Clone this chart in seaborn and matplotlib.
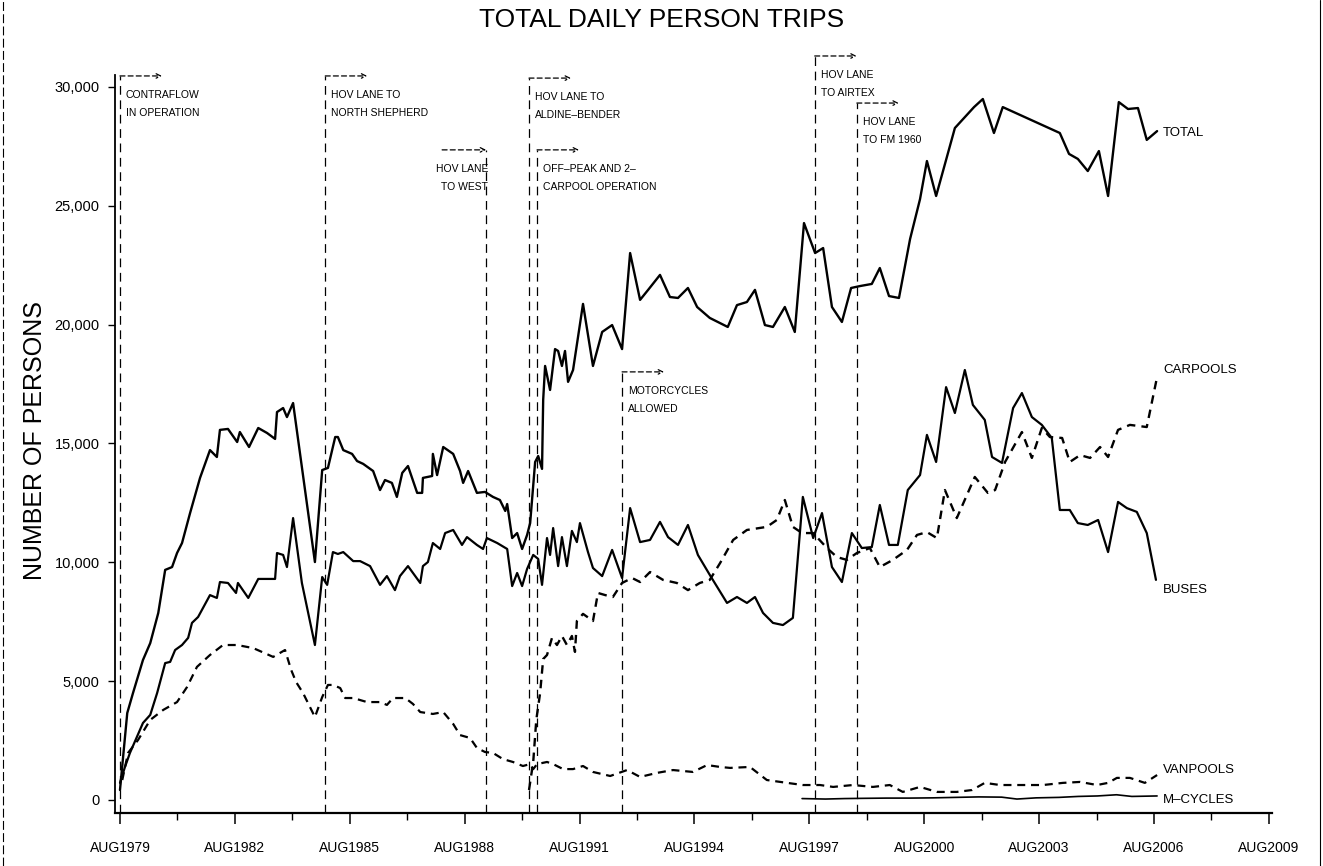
import pandas as pd
import seaborn as sns
import matplotlib.pyplot as plt
from matplotlib.lines import Line2D

# time axis is in decimal years (AUG = .58), values are daily person trips
total_year = [1979.58, 1979.77, 1979.92, 1980.18, 1980.37, 1980.58, 1980.76, 1980.94, 1981.07, 1981.20,
              1981.41, 1981.67, 1981.93, 1982.11, 1982.19, 1982.40, 1982.64, 1982.71, 1982.95, 1983.19,
              1983.42, 1983.63, 1983.68, 1983.84, 1983.94, 1984.10, 1984.67, 1984.86, 1985.01, 1985.20,
              1985.27, 1985.41, 1985.64, 1985.77, 1985.93, 1986.19, 1986.37, 1986.50, 1986.68, 1986.81,
              1986.95, 1987.10, 1987.34, 1987.47, 1987.49, 1987.73, 1987.75, 1987.86, 1988.02, 1988.28,
              1988.46, 1988.54, 1988.67, 1988.90, 1989.11, 1989.32, 1989.50, 1989.64, 1989.69, 1989.82,
              1989.95, 1990.08, 1990.21, 1990.29, 1990.42, 1990.50, 1990.60, 1990.63, 1990.68, 1990.81,
              1990.94, 1991.02, 1991.12, 1991.20, 1991.28, 1991.41, 1991.67, 1991.93, 1992.17, 1992.43,
              1992.69, 1992.90, 1993.16, 1993.37, 1993.68, 1993.94, 1994.15, 1994.41, 1994.65, 1994.98,
              1995.45, 1995.69, 1995.95, 1996.16, 1996.42, 1996.63, 1996.94, 1997.20, 1997.44, 1997.73,
              1997.94, 1998.17, 1998.43, 1998.67, 1998.90, 1999.21, 1999.42, 1999.66, 1999.92, 2000.21,
              2000.47, 2000.65, 2000.89, 2001.38, 2001.88, 2002.11, 2002.40, 2002.63, 2004.12, 2004.36,
              2004.59, 2004.85, 2005.14, 2005.38, 2005.66, 2005.90, 2006.16, 2006.39, 2006.66]
total_persons = [420, 3660, 4500, 5890, 6600, 7870, 9680, 9800, 10390, 10810,
                 12070, 13550, 14720, 14430, 15570, 15610, 15060, 15480, 14850, 15650,
                 15440, 15190, 16320, 16490, 16110, 16700, 10010, 13880, 13970, 15270,
                 15270, 14720, 14560, 14260, 14140, 13840, 13040, 13460, 13340, 12750,
                 13760, 14050, 12920, 12920, 13550, 13630, 14560, 13670, 14850, 14560,
                 13840, 13340, 13840, 12920, 12960, 12750, 12620, 12160, 12450, 11020,
                 11230, 10560, 11150, 11650, 14220, 14470, 13930, 16830, 18260, 17250,
                 18970, 18890, 18260, 18890, 17590, 18090, 20870, 18260, 19690, 19980,
                 18970, 23010, 21040, 21460, 22090, 21160, 21120, 21540, 20740, 20280,
                 19900, 20820, 20950, 21460, 19980, 19900, 20740, 19690, 24270, 23010,
                 23220, 20740, 20110, 21540, 21620, 21710, 22380, 21200, 21120, 23600,
                 25280, 26880, 25410, 28270, 29150, 29490, 28060, 29150, 28060, 27180,
                 26970, 26460, 27300, 25410, 29360, 29070, 29110, 27770, 28140]

buses_year = [1979.58, 1979.71, 1979.84, 1980.18, 1980.37, 1980.55, 1980.76, 1980.89, 1981.02, 1981.20,
              1981.36, 1981.46, 1981.62, 1981.93, 1982.11, 1982.19, 1982.40, 1982.61, 1982.66, 1982.93,
              1983.19, 1983.63, 1983.68, 1983.84, 1983.94, 1984.10, 1984.33, 1984.67, 1984.86, 1984.99,
              1985.14, 1985.27, 1985.41, 1985.67, 1985.85, 1986.11, 1986.37, 1986.55, 1986.76, 1986.89,
              1987.10, 1987.42, 1987.49, 1987.62, 1987.75, 1987.94, 1988.07, 1988.28, 1988.51, 1988.64,
              1988.90, 1989.06, 1989.16, 1989.43, 1989.69, 1989.82, 1989.95, 1990.08, 1990.21, 1990.37,
              1990.50, 1990.60, 1990.73, 1990.81, 1990.89, 1991.02, 1991.12, 1991.25, 1991.38, 1991.51,
              1991.59, 1991.80, 1991.93, 1992.17, 1992.43, 1992.69, 1992.90, 1993.16, 1993.42, 1993.68,
              1993.89, 1994.15, 1994.41, 1994.67, 1994.98, 1995.43, 1995.69, 1995.95, 1996.16, 1996.37,
              1996.63, 1996.89, 1997.15, 1997.41, 1997.68, 1997.91, 1998.17, 1998.43, 1998.69, 1998.95,
              1999.21, 1999.42, 1999.66, 1999.89, 2000.15, 2000.47, 2000.65, 2000.89, 2001.15, 2001.38,
              2001.64, 2001.85, 2002.16, 2002.35, 2002.61, 2002.90, 2003.13, 2003.39, 2003.65, 2003.91,
              2004.12, 2004.38, 2004.59, 2004.85, 2005.12, 2005.38, 2005.64, 2005.87, 2006.13, 2006.39,
              2006.63]
buses_persons = [720, 1390, 1980, 3240, 3580, 4500, 5760, 5810, 6310, 6520,
                 6820, 7450, 7700, 8620, 8500, 9170, 9130, 8710, 9130, 8500,
                 9300, 9300, 10390, 10310, 9800, 11860, 9130, 6520, 9380, 9050,
                 10430, 10350, 10430, 10050, 10050, 9840, 9050, 9420, 8830, 9420,
                 9840, 9130, 9840, 10010, 10810, 10560, 11230, 11360, 10730, 11060,
                 10730, 10560, 11020, 10810, 10560, 9000, 9550, 9000, 9720, 10310,
                 10140, 9050, 11020, 10310, 11440, 9840, 11060, 9840, 11320, 10850,
                 11650, 10430, 9760, 9420, 10520, 9340, 12280, 10850, 10940, 11700,
                 11060, 10730, 11570, 10310, 9470, 8290, 8540, 8290, 8540, 7870,
                 7450, 7360, 7660, 12750, 11020, 12070, 9800, 9170, 11230, 10600,
                 10640, 12410, 10730, 10730, 13040, 13670, 15360, 14220, 17370, 16280,
                 18090, 16620, 15990, 14430, 14180, 16490, 17120, 16110, 15780, 15230,
                 12200, 12200, 11650, 11570, 11780, 10430, 12540, 12280, 12120, 11230,
                 9260]

carpools_year = [1990.26, 1990.37, 1990.45, 1990.55, 1990.63, 1990.73, 1990.86, 1990.99, 1991.12, 1991.25,
                 1991.38, 1991.46, 1991.51, 1991.67, 1991.93, 1992.06, 1992.25, 1992.45, 1992.69, 1992.95,
                 1993.16, 1993.42, 1993.76, 1994.12, 1994.41, 1994.72, 1994.98, 1995.25, 1995.59, 1995.95,
                 1996.47, 1996.73, 1996.94, 1997.15, 1997.39, 1997.68, 1998.04, 1998.30, 1998.56, 1998.82,
                 1999.16, 1999.42, 1999.76, 2000.13, 2000.39, 2000.65, 2000.91, 2001.12, 2001.43, 2001.90,
                 2002.24, 2002.43, 2002.69, 2003.13, 2003.39, 2003.65, 2003.86, 2004.18, 2004.38, 2004.65,
                 2004.91, 2005.17, 2005.38, 2005.64, 2005.95, 2006.39, 2006.66]
carpools_persons = [420, 1600, 3370, 4500, 5930, 6100, 6820, 6520, 6900, 6520,
                    6900, 6230, 7530, 7830, 7530, 8710, 8620, 8540, 9130, 9340,
                    9170, 9590, 9260, 9130, 8830, 9130, 9260, 9970, 10940, 11360,
                    11490, 11780, 12620, 11490, 11230, 11230, 10600, 10220, 10100, 10390,
                    10600, 9800, 10100, 10520, 11150, 11270, 11020, 13040, 11860, 13590,
                    12920, 13040, 14220, 15480, 14390, 15650, 15270, 15230, 14220, 14510,
                    14390, 14850, 14430, 15570, 15780, 15690, 17800]

vanpools_year = [1979.64, 1979.79, 1980.05, 1980.37, 1980.71, 1981.07, 1981.33, 1981.59, 1981.93, 1982.27,
                 1982.64, 1983.06, 1983.58, 1983.89, 1984.05, 1984.18, 1984.36, 1984.67, 1984.86, 1985.01,
                 1985.14, 1985.33, 1985.46, 1985.67, 1986.03, 1986.37, 1986.55, 1986.71, 1987.03, 1987.23,
                 1987.42, 1987.75, 1988.02, 1988.28, 1988.46, 1988.72, 1988.90, 1989.11, 1989.32, 1989.58,
                 1989.84, 1990.10, 1990.29, 1990.37, 1990.47, 1990.73, 1990.89, 1991.15, 1991.41, 1991.67,
                 1991.93, 1992.38, 1992.82, 1993.16, 1993.60, 1994.02, 1994.54, 1994.91, 1995.25, 1995.51,
                 1996.03, 1996.47, 1997.00, 1997.41, 1997.86, 1998.20, 1998.72, 1999.24, 1999.68, 2000.02,
                 2000.47, 2000.91, 2001.43, 2001.83, 2002.16, 2002.56, 2003.16, 2003.68, 2004.20, 2004.65,
                 2005.09, 2005.38, 2005.61, 2005.95, 2006.34, 2006.66]
vanpools_persons = [840, 1980, 2520, 3370, 3790, 4120, 4750, 5600, 6100, 6520,
                    6520, 6390, 6020, 6310, 5470, 4960, 4500, 3490, 4330, 4840,
                    4840, 4710, 4290, 4290, 4120, 4120, 4000, 4290, 4290, 4040,
                    3700, 3620, 3700, 3200, 2730, 2610, 2190, 2020, 1980, 1720,
                    1600, 1430, 1510, 1300, 1510, 1600, 1510, 1300, 1300, 1430,
                    1180, 1010, 1260, 970, 1140, 1260, 1180, 1470, 1390, 1350,
                    1390, 840, 720, 630, 630, 550, 630, 550, 630, 340,
                    550, 340, 340, 420, 720, 630, 630, 630, 720, 760,
                    630, 720, 930, 930, 720, 1050]

mcycles_year = [1997.39, 1998.00, 1998.50, 1999.00, 1999.60, 2000.20, 2000.80, 2001.40, 2002.00,
                2002.60, 2003.00, 2003.50, 2004.10, 2004.60, 2005.10, 2005.60, 2006.00, 2006.66]
mcycles_persons = [60, 40, 60, 70, 80, 80, 90, 110, 130, 120, 40, 90, 110, 150, 170, 220, 150, 170]

modes = ['TOTAL', 'BUSES', 'CARPOOLS', 'VANPOOLS', 'M\u2013CYCLES']
label_y = [28050, 8830, 18090, 1260, 0]

event_year = [1979.58, 1984.94, 1989.14, 1990.26, 1990.47, 1992.69, 1997.72, 1998.82]
event_top = [30460, 30460, 27350, 30370, 27350, 18010, 31300, 29320]
event_text = [('CONTRAFLOW', 'IN OPERATION'),
              ('HOV LANE TO', 'NORTH SHEPHERD'),
              ('HOV LANE', 'TO WEST'),
              ('HOV LANE TO', 'ALDINE\u2013BENDER'),
              ('OFF\u2013PEAK AND 2\u2013', 'CARPOOL OPERATION'),
              ('MOTORCYCLES', 'ALLOWED'),
              ('HOV LANE', 'TO AIRTEX'),
              ('HOV LANE', 'TO FM 1960')]

x_ticks = [1979.58, 1982.58, 1985.58, 1988.58, 1991.58, 1994.58, 1997.58, 2000.58, 2003.58, 2006.58, 2009.58]
x_tick_labels = ['AUG1979', 'AUG1982', 'AUG1985', 'AUG1988', 'AUG1991', 'AUG1994',
                 'AUG1997', 'AUG2000', 'AUG2003', 'AUG2006', 'AUG2009']
y_ticks = [0, 5000, 10000, 15000, 20000, 25000, 30000]
y_tick_labels = ['0', '5,000', '10,000', '15,000', '20,000', '25,000', '30,000']

sns.set_style('ticks')
plt.rcParams['font.family'] = ['Liberation Sans', 'DejaVu Sans']
plt.rcParams.update({'text.color': 'black', 'axes.edgecolor': 'black', 'axes.labelcolor': 'black',
                     'xtick.color': 'black', 'ytick.color': 'black'})

frames = []
for name, yrs, vals in zip(modes,
                           [total_year, buses_year, carpools_year, vanpools_year, mcycles_year],
                           [total_persons, buses_persons, carpools_persons, vanpools_persons, mcycles_persons]):
    frames.append(pd.DataFrame({'year': yrs, 'persons': vals, 'mode': name}))
df = pd.concat(frames, ignore_index=True)

fig = plt.figure(figsize=(13.23, 8.66), dpi=100)
ax = fig.add_axes([115 / 1323, 53 / 866, 1157 / 1323, 738 / 866])

sns.lineplot(data=df, x='year', y='persons', hue='mode', style='mode', size='mode',
             palette={m: 'black' for m in modes},
             dashes={'TOTAL': '', 'BUSES': '', 'CARPOOLS': (3.6, 2.6),
                     'VANPOOLS': (3.6, 2.6), 'M\u2013CYCLES': ''},
             sizes={'TOTAL': 1.7, 'BUSES': 1.6, 'CARPOOLS': 1.7, 'VANPOOLS': 1.6, 'M\u2013CYCLES': 1.2},
             estimator=None, sort=False, legend=False, ax=ax)

y_bottom, y_top = -547, 30500
ax.set_xlim(1979.45, 2009.66)
ax.set_ylim(y_bottom, y_top)
sns.despine(ax=ax)
ax.spines['left'].set_linewidth(1.3)
ax.spines['bottom'].set_linewidth(1.6)

ax.set_xticks(x_ticks)
ax.set_xticklabels(x_tick_labels, fontsize=10)
ax.set_xticks([t + 1.5 for t in x_ticks[:-1]], minor=True)
ax.tick_params(axis='x', which='major', length=8, width=1.1, pad=12)
ax.tick_params(axis='x', which='minor', length=5, width=1.0)
ax.set_yticks(y_ticks)
ax.set_yticklabels(y_tick_labels, fontsize=10.5)
ax.tick_params(axis='y', length=5, width=1.0, pad=6)
ax.set_xlabel('')
ax.set_ylabel('')

# event markers: dashed drop line, dashed arrow and two-line note
px_year = 1 / 38.3
for yr, top, (l1, l2) in zip(event_year, event_top, event_text):
    ax.plot([yr, yr], [y_bottom, top], color='black', lw=0.9, ls=(0, (7, 4.5)), clip_on=False)
    if l2 == 'TO WEST':
        tail, head = yr - 44 * px_year, yr
        tx, ha = yr + 2 * px_year, 'right'
    else:
        tail, head = yr, yr + 42 * px_year
        tx, ha = yr + 6 * px_year, 'left'
    ax.annotate('', xy=(head, top), xytext=(tail, top), annotation_clip=False,
                arrowprops=dict(arrowstyle='->', ls=(0, (4, 2.5)), lw=0.9, color='black',
                                shrinkA=0, shrinkB=0, mutation_scale=8))
    ax.annotate(l1, xy=(tx, top), xytext=(0, -19 * 0.72), textcoords='offset points',
                ha=ha, va='center', fontsize=7.5, annotation_clip=False)
    ax.annotate(l2, xy=(tx, top), xytext=(0, -37 * 0.72), textcoords='offset points',
                ha=ha, va='center', fontsize=7.5, annotation_clip=False)

# series names at the right end of the lines
for name, yv in zip(modes, label_y):
    ax.text(2006.82, yv, name, fontsize=9.5, va='center', ha='left')

fig.text(0.5, 1 - 20 / 866, 'TOTAL DAILY PERSON TRIPS', ha='center', va='center', fontsize=19)
fig.text(35 / 1323, 1 - 440 / 866, 'NUMBER OF PERSONS', rotation=90, ha='center', va='center',
         fontsize=18)

# scanned page edges
fig.add_artist(Line2D([3 / 1323, 3 / 1323], [0.0, 1.0], transform=fig.transFigure,
                      color='black', lw=0.8, ls=(0, (8, 3))))
fig.add_artist(Line2D([1320 / 1323, 1320 / 1323], [0.0, 1.0], transform=fig.transFigure,
                      color='black', lw=0.8))

fig.savefig('out.png', dpi=100)
